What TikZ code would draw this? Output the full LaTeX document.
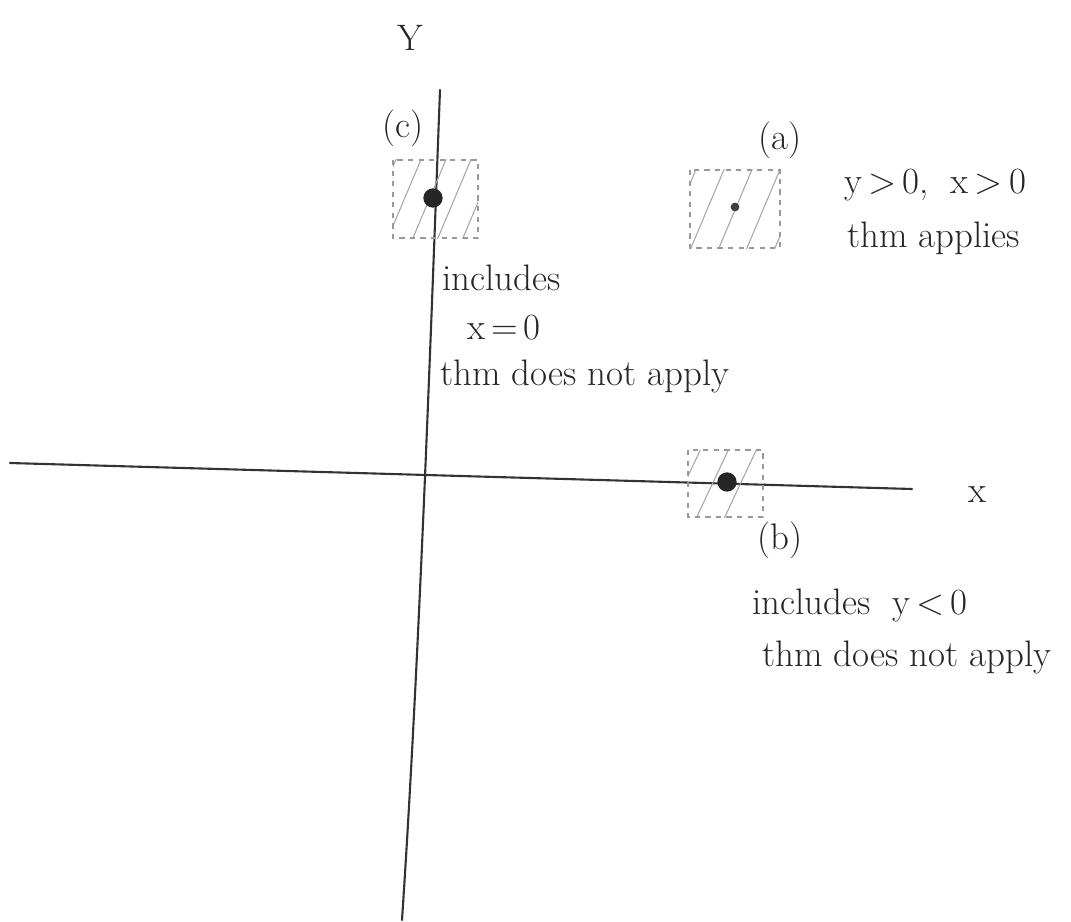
\documentclass[tikz,border=0pt]{standalone}
\usepackage{fontspec}
\begin{document}
\begin{tikzpicture}[x=0.02cm,y=-0.02cm,
  ink/.style={draw=black!80, line width=1.2pt, line cap=round},
  regionbox/.style={draw=black!40, dashed, line width=0.7pt, minimum size=0pt, inner sep=0pt},
  hatch/.style={draw=black!35, line width=0.6pt},
  bigdot/.style={circle, fill=black!85, inner sep=0pt, minimum size=11pt},
  smalldot/.style={circle, fill=black!75, inner sep=0pt, minimum size=5pt},
  lbl/.style={text=black!85, font=\fontsize{21}{24}\selectfont, inner sep=1pt}]
\useasboundingbox (0,0) rectangle (1071,922);
% axes
\coordinate (ytop) at (440,90);
\coordinate (ybot) at (402,920);
\coordinate (xl) at (10,463);
\coordinate (xr) at (912,489);
\draw[ink] (ytop) .. controls (432,300) and (420,650) .. (ybot);
\draw[ink] (xl) -- (xr);
\node[lbl] (ylab) at (410,38) {Y};
\node[lbl] (xlab) at (977,495) {x};
% box c
\coordinate (c1) at (393,160); \coordinate (c2) at (478,238);
\begin{scope}
\clip (c1) rectangle (c2);
\foreach \s in {360,385,410,435,460,485} \draw[hatch] (\s,245) -- (\s+40,150);
\end{scope}
\draw[regionbox] (c1) rectangle (c2);
\node[bigdot] (dc) at (433,198) {};
\node[lbl] (lc) at (403,128) {(c)};
% box a
\coordinate (a1) at (690,170); \coordinate (a2) at (780,248);
\begin{scope}
\clip (a1) rectangle (a2);
\foreach \s in {660,688,716,744,772} \draw[hatch] (\s,255) -- (\s+40,160);
\end{scope}
\draw[regionbox] (a1) rectangle (a2);
\node[smalldot] (da) at (735,207) {};
\node[lbl] (la) at (780,140) {(a)};
\node[lbl, anchor=west] (ta1) at (842,185) {y\,>\,0,\ \ x\,>\,0};
\node[lbl, anchor=west] (ta2) at (845,238) {thm applies};
% box b
\coordinate (b1) at (688,450); \coordinate (b2) at (763,517);
\begin{scope}
\clip (b1) rectangle (b2);
\foreach \s in {665,693,721} \draw[hatch] (\s,525) -- (\s+40,440);
\end{scope}
\draw[regionbox] (b1) rectangle (b2);
\node[bigdot] (db) at (727,482) {};
\node[lbl] (lb) at (780,540) {(b)};
\node[lbl, anchor=west] (tb1) at (750,605) {includes\ \ y\,<\,0};
\node[lbl, anchor=west] (tb2) at (760,657) {thm does not apply};
% text c
\node[lbl, anchor=west] (tc1) at (440,278) {includes};
\node[lbl, anchor=west] (tc2) at (465,328) {x\,=\,0};
\node[lbl, anchor=west] (tc3) at (438,376) {thm does not apply};
\end{tikzpicture}
\end{document}
